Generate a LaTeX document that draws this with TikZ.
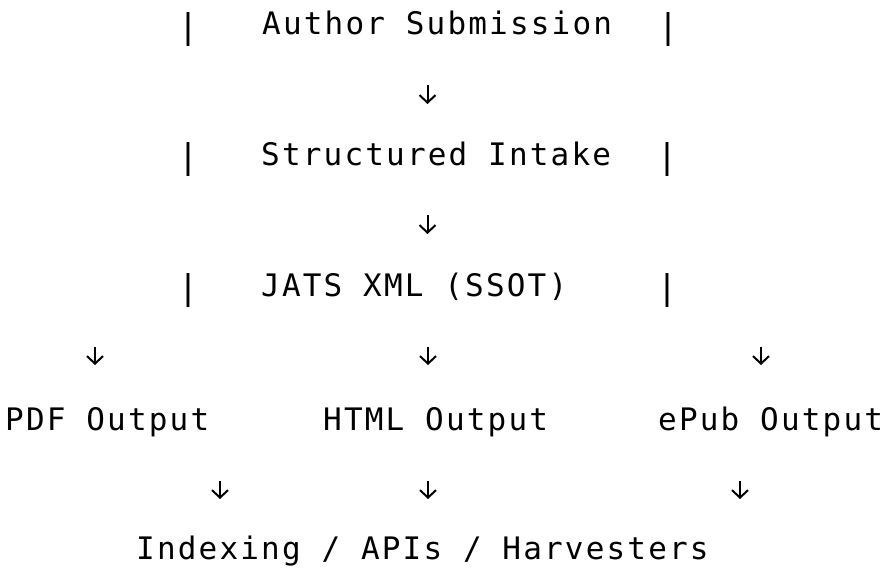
\documentclass[tikz,border=0pt]{standalone}
\usepackage{fontspec}
\usetikzlibrary{arrows.meta}
\newfontfamily\flowfont[LetterSpace=7]{DejaVu Sans Mono}
\tikzset{
	flowtext/.style={font=\flowfont\fontsize{31}{37}\selectfont, inner sep=0pt, anchor=base west},
	flowbar/.style={font=\flowfont\fontsize{34}{40}\selectfont, inner sep=0pt, anchor=center},
	flowarrow/.style={line width=2pt, -{Straight Barb[length=7.5pt, width=16pt]}}
}
\begin{document}
\begin{tikzpicture}[x=1pt, y=-1pt]
	\useasboundingbox[fill=white] (0,0) rectangle (889,569);
	
	% Einreichung
	\node[flowtext] (author) at (262, 35) {Author Submission};
	\node[flowbar] (authorL) at (188, 29.5) {|};
	\node[flowbar] (authorR) at (668, 29.5) {|};
	\coordinate (arrA) at (427.5, 85);
	\draw[flowarrow] (arrA) -- ++(0, 19);
	
	% Erfassung
	\node[flowtext] (intake) at (261, 166) {Structured Intake};
	\node[flowbar] (intakeL) at (188, 160) {|};
	\node[flowbar] (intakeR) at (667, 160) {|};
	\coordinate (arrB) at (427.5, 215);
	\draw[flowarrow] (arrB) -- ++(0, 19);
	
	% JATS
	\node[flowtext] (jats) at (261, 297) {JATS XML (SSOT)};
	\node[flowbar] (jatsL) at (188, 291) {|};
	\node[flowbar] (jatsR) at (667, 291) {|};
	\coordinate (arrPdf) at (95, 347);
	\coordinate (arrHtml) at (428, 347);
	\coordinate (arrEpub) at (761, 347);
	\draw[flowarrow] (arrPdf) -- ++(0, 18);
	\draw[flowarrow] (arrHtml) -- ++(0, 18);
	\draw[flowarrow] (arrEpub) -- ++(0, 18);
	
	% Ausgaben
	\node[flowtext] (pdf) at (5, 430) {PDF Output};
	\node[flowtext] (html) at (323, 430) {HTML Output};
	\node[flowtext] (epub) at (658, 430) {ePub Output};
	\coordinate (arrPdfB) at (220, 481);
	\coordinate (arrHtmlB) at (428, 481);
	\coordinate (arrEpubB) at (740, 481);
	\draw[flowarrow] (arrPdfB) -- ++(0, 18);
	\draw[flowarrow] (arrHtmlB) -- ++(0, 18);
	\draw[flowarrow] (arrEpubB) -- ++(0, 18);
	
	% Verwertung
	\node[flowtext] (index) at (136, 559) {Indexing / APIs / Harvesters};
	
\end{tikzpicture}
\end{document}
